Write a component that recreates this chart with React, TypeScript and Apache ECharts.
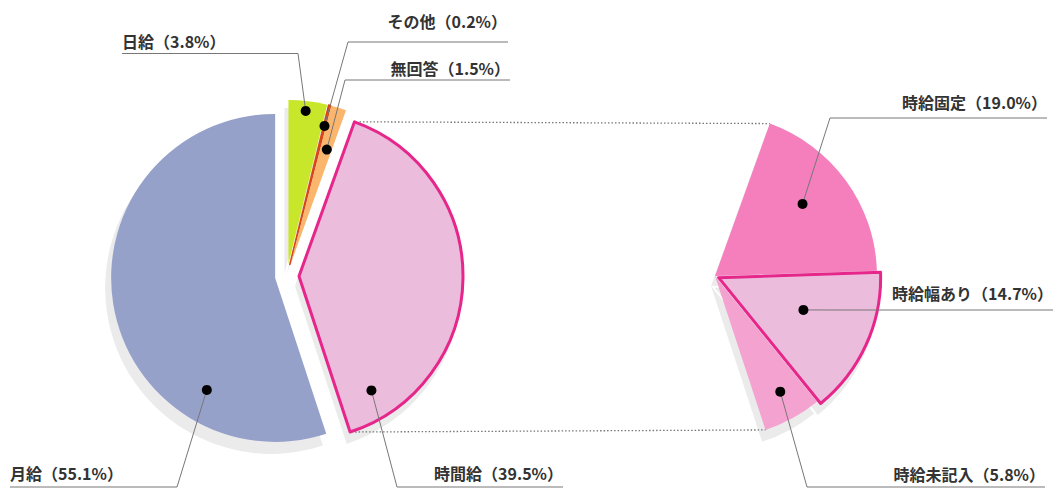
import React, { useEffect, useRef } from "react";
import * as echarts from "echarts";

// ---- data ----
const mainCategories = ["日給", "その他", "無回答", "時間給", "月給"];
const mainValues = [3.8, 0.2, 1.5, 39.5, 55.1];
const subCategories = ["時給固定", "時給幅あり", "時給未記入"];
const subValues = [19.0, 14.7, 5.8];
const breakdownOf = "時間給";

// ---- styles / layout ----
const mainColors = ["#c8e62a", "#d9461c", "#f9b66c", "#ecbcdc", "#96a1ca"];
const subColors = ["#f57fbd", "#ecbcdc", "#f4a2cf"];
const MAGENTA = "#e6268a";
const SHADOW = "#ebebeb";
const FONT = "'Noto Sans CJK JP', 'Noto Sans', sans-serif";

const LEFT = { cx: 287, cy: 276, r: 164, offset: 12 };
const RIGHT = { cx: 715, cy: 276, r: 162, offset: 4 };
const SHADOW_SHIFT = { dx: -4, dy: 10, dr: 2 };

// dot placement inside slices: [angle fraction, radius fraction]
const DOT_PARAMS: Record<string, [number, number]> = {
  日給: [0.47, 0.94],
  その他: [0.5, 0.87],
  無回答: [0.58, 0.735],
  時間給: [0.9, 0.825],
  月給: [0.25, 0.8],
  時給固定: [0.45, 0.7],
  時給幅あり: [0.43, 0.56],
  時給未記入: [0.46, 0.82],
};

// label anchor (text) and leader line elbow/end
type LabelPos = { x: number; y: number; align: string; elbow: [number, number]; end: [number, number] };
const LABEL_POS: Record<string, LabelPos> = {
  日給: { x: 122, y: 41, align: "left", elbow: [298, 53.5], end: [122, 53.5] },
  その他: { x: 507, y: 21, align: "right", elbow: [348, 42], end: [508, 42] },
  無回答: { x: 510, y: 68, align: "right", elbow: [345, 80], end: [510, 80] },
  時間給: { x: 563, y: 473, align: "right", elbow: [397, 487], end: [563, 487] },
  月給: { x: 10, y: 473, align: "left", elbow: [177, 487], end: [10, 487] },
  時給固定: { x: 1047, y: 102, align: "right", elbow: [830, 118], end: [1047, 118] },
  時給幅あり: { x: 1053, y: 293, align: "right", elbow: [840, 310], end: [1053, 310] },
  時給未記入: { x: 1045, y: 474, align: "right", elbow: [807, 487], end: [1045, 487] },
};

const rad = (d: number) => (d * Math.PI) / 180;

function sliceAngles(values: number[], total: number, startCW: number) {
  const out: [number, number][] = [];
  let a = startCW;
  values.forEach((v) => {
    const span = (v / total) * 360;
    out.push([a, a + span]);
    a += span;
  });
  return out;
}

function dotPoint(
  geom: { cx: number; cy: number; r: number },
  a0: number,
  a1: number,
  off: number,
  af: number,
  rf: number
): [number, number] {
  const mid = (a0 + a1) / 2;
  const ax = geom.cx + off * Math.sin(rad(mid));
  const ay = geom.cy - off * Math.cos(rad(mid));
  const t = a0 + af * (a1 - a0);
  return [ax + rf * geom.r * Math.sin(rad(t)), ay - rf * geom.r * Math.cos(rad(t))];
}

export default function App() {
  const ref = useRef<HTMLDivElement>(null);

  useEffect(() => {
    if (!ref.current) return;
    const chart = echarts.init(ref.current, undefined, { renderer: "svg" });

    const mainTotal = mainValues.reduce((s, v) => s + v, 0);
    const hIdx = mainCategories.indexOf(breakdownOf);
    const mainAngles = sliceAngles(mainValues, mainTotal, 0);
    const hStart = mainAngles[hIdx][0];
    const hEnd = mainAngles[hIdx][1];
    const fillerValue = mainTotal - subValues.reduce((s, v) => s + v, 0);
    const subAll = [...subValues, fillerValue];
    const subAngles = sliceAngles(subAll, mainTotal, hStart);
    const subSelected = [false, true, false, false];

    const mainDots = mainCategories.map((n, i) =>
      dotPoint(LEFT, mainAngles[i][0], mainAngles[i][1], LEFT.offset, DOT_PARAMS[n][0], DOT_PARAMS[n][1])
    );
    const subDots = subCategories.map((n, i) =>
      dotPoint(
        RIGHT,
        subAngles[i][0],
        subAngles[i][1],
        subSelected[i] ? RIGHT.offset : 0,
        DOT_PARAMS[n][0],
        DOT_PARAMS[n][1]
      )
    );

    const mainItems = mainCategories.map((n, i) => {
      const isH = i === hIdx;
      // very thin slices get a same-colour outline so they stay visible
      const thin = mainValues[i] < 1;
      const st = {
        color: mainColors[i],
        borderColor: isH ? MAGENTA : thin ? mainColors[i] : "transparent",
        borderWidth: isH ? 3 : thin ? 1.6 : 0,
      };
      return { name: n, value: mainValues[i], selected: true, itemStyle: st, select: { itemStyle: st } };
    });

    const subItems = subAll.map((v, i) => {
      if (i >= subCategories.length) {
        const st = { color: "transparent", borderWidth: 0 };
        return { name: "", value: v, itemStyle: st, select: { itemStyle: st } };
      }
      const st = {
        color: subColors[i],
        borderColor: subSelected[i] ? MAGENTA : "transparent",
        borderWidth: subSelected[i] ? 3 : 0,
      };
      return { name: subCategories[i], value: v, selected: subSelected[i], itemStyle: st, select: { itemStyle: st } };
    });

    const shadowItems = (items: any[], filler: boolean) =>
      items.map((it, i) => {
        const c = filler && i >= subCategories.length ? "transparent" : SHADOW;
        return {
          name: it.name,
          value: it.value,
          selected: it.selected,
          itemStyle: { color: c, borderWidth: 0 },
          select: { itemStyle: { color: c, borderWidth: 0 } },
        };
      });

    const common = {
      type: "pie",
      clockwise: true,
      avoidLabelOverlap: false,
      selectedMode: "multiple",
      emphasis: { disabled: true },
      minAngle: 0,
      silent: true,
      label: { show: false },
      labelLine: { show: false },
    };

    const tCorner = (geom: any, apexOff: number, mid: number, a: number): [number, number] => {
      const ax = geom.cx + apexOff * Math.sin(rad(mid));
      const ay = geom.cy - apexOff * Math.cos(rad(mid));
      return [ax + geom.r * Math.sin(rad(a)), ay - geom.r * Math.cos(rad(a))];
    };
    const hMid = (hStart + hEnd) / 2;
    const lTop = tCorner(LEFT, LEFT.offset, hMid, hStart);
    const lBot = tCorner(LEFT, LEFT.offset, hMid, hEnd);
    const rTop = tCorner(RIGHT, 0, 0, hStart);
    const rBot = tCorner(RIGHT, 0, 0, hEnd);

    const dotted = { stroke: "#777", lineWidth: 1.3, lineDash: [1.5, 2] };

    const labelGraphics: any[] = [];
    const addLabel = (name: string, value: number, dot: [number, number]) => {
      const L = LABEL_POS[name];
      labelGraphics.push({
        type: "polyline",
        shape: { points: [dot, L.elbow, L.end] },
        style: { stroke: "#777", lineWidth: 1, fill: null },
        z: 90,
        silent: true,
      });
      labelGraphics.push({
        type: "circle",
        shape: { cx: dot[0], cy: dot[1], r: 5 },
        style: { fill: "#000" },
        z: 100,
        silent: true,
      });
      labelGraphics.push({
        type: "text",
        x: L.x,
        y: L.y,
        style: {
          text: `${name}（${value.toFixed(1)}%）`,
          font: `bold 16px ${FONT}`,
          fill: "#333",
          textAlign: L.align,
          textVerticalAlign: "middle",
        },
        z: 100,
        silent: true,
      });
    };
    mainCategories.forEach((n, i) => addLabel(n, mainValues[i], mainDots[i]));
    subCategories.forEach((n, i) => addLabel(n, subValues[i], subDots[i]));

    chart.setOption({
      animation: false,
      backgroundColor: "#fff",
      series: [
        {
          ...common,
          name: "mainShadow",
          z: 1,
          center: [LEFT.cx + SHADOW_SHIFT.dx, LEFT.cy + SHADOW_SHIFT.dy],
          radius: LEFT.r + SHADOW_SHIFT.dr,
          startAngle: 90,
          selectedOffset: LEFT.offset,
          data: shadowItems(mainItems, false),
        },
        {
          ...common,
          name: "subShadow",
          z: 1,
          center: [RIGHT.cx + SHADOW_SHIFT.dx, RIGHT.cy + SHADOW_SHIFT.dy],
          radius: RIGHT.r + SHADOW_SHIFT.dr,
          startAngle: 90 - hStart,
          selectedOffset: RIGHT.offset,
          data: shadowItems(subItems, true),
        },
        {
          ...common,
          name: "main",
          z: 2,
          center: [LEFT.cx, LEFT.cy],
          radius: LEFT.r,
          startAngle: 90,
          selectedOffset: LEFT.offset,
          data: mainItems,
        },
        {
          ...common,
          name: "sub",
          z: 2,
          center: [RIGHT.cx, RIGHT.cy],
          radius: RIGHT.r,
          startAngle: 90 - hStart,
          selectedOffset: RIGHT.offset,
          data: subItems,
        },
      ],
      graphic: [
        {
          type: "line",
          shape: { x1: lTop[0] + 5, y1: lTop[1], x2: rTop[0], y2: rTop[1] },
          style: dotted,
          z: 50,
          silent: true,
        },
        {
          type: "line",
          shape: { x1: lBot[0] + 5, y1: lBot[1], x2: rBot[0], y2: rBot[1] },
          style: dotted,
          z: 50,
          silent: true,
        },
        ...labelGraphics,
      ],
    });

    return () => chart.dispose();
  }, []);

  return <div ref={ref} style={{ position: "fixed", left: 0, top: 0, width: 1062, height: 489 }} />;
}
